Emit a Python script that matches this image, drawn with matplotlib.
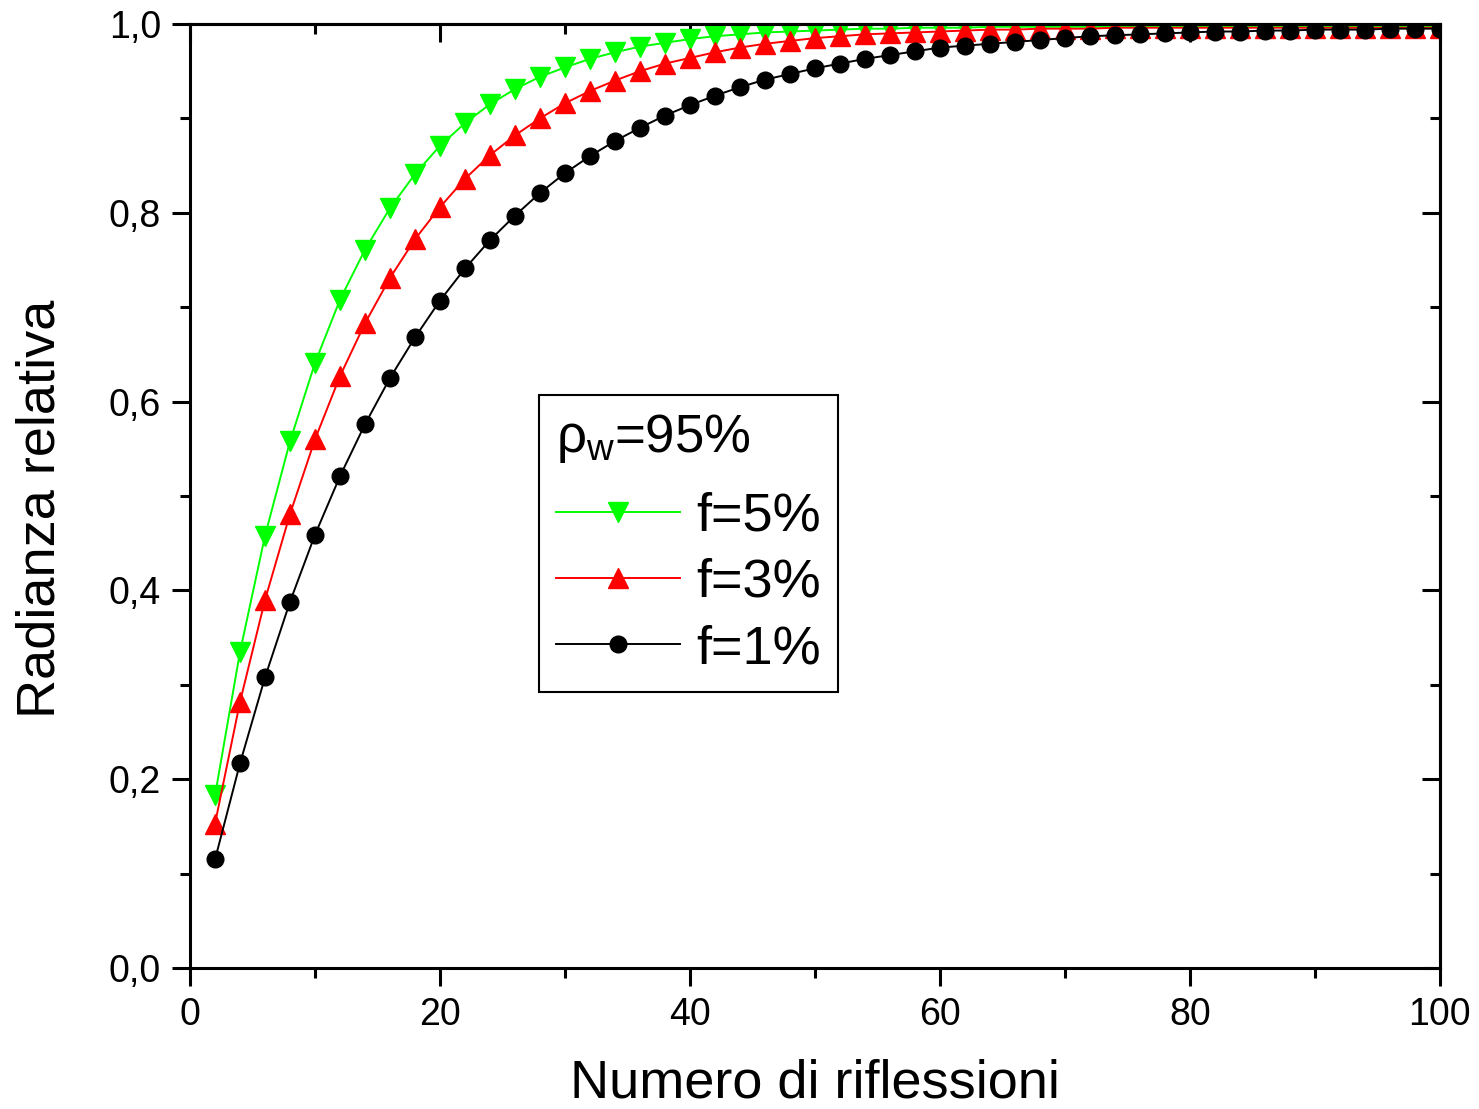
import numpy as np
import matplotlib.pyplot as plt
from matplotlib.ticker import MultipleLocator, FuncFormatter

plt.rcParams['font.family'] = ['Liberation Sans', 'DejaVu Sans']
plt.rcParams['mathtext.fontset'] = 'custom'
plt.rcParams['mathtext.rm'] = 'Liberation Sans'
plt.rcParams['mathtext.it'] = 'Liberation Sans'

# numero di riflessioni
n = np.arange(2, 101, 2)

# f=5%
f5 = [0.183, 0.335, 0.458, 0.558, 0.641, 0.708, 0.761, 0.805, 0.841, 0.871,
      0.895, 0.915, 0.931, 0.944, 0.954, 0.963, 0.970, 0.976, 0.980, 0.984,
      0.987, 0.989, 0.991, 0.992, 0.993, 0.994, 0.995, 0.995, 0.996, 0.996,
      0.996, 0.997, 0.997, 0.997, 0.997, 0.997, 0.997, 0.997, 0.997, 0.997,
      0.997, 0.997, 0.997, 0.997, 0.997, 0.997, 0.997, 0.997, 0.997, 0.997]
# f=3%
f3 = [0.153, 0.282, 0.390, 0.481, 0.560, 0.627, 0.683, 0.731, 0.772, 0.806,
      0.836, 0.861, 0.882, 0.900, 0.916, 0.929, 0.940, 0.950, 0.958, 0.964,
      0.970, 0.975, 0.979, 0.982, 0.985, 0.987, 0.989, 0.990, 0.991, 0.992,
      0.993, 0.994, 0.994, 0.995, 0.995, 0.995, 0.996, 0.996, 0.996, 0.996,
      0.996, 0.996, 0.996, 0.996, 0.996, 0.996, 0.996, 0.996, 0.996, 0.996]
# f=1%
f1 = [0.115, 0.217, 0.308, 0.388, 0.459, 0.521, 0.576, 0.625, 0.668, 0.707,
      0.741, 0.771, 0.797, 0.821, 0.842, 0.860, 0.876, 0.890, 0.903, 0.914,
      0.924, 0.933, 0.941, 0.947, 0.953, 0.958, 0.963, 0.967, 0.971, 0.975,
      0.977, 0.979, 0.981, 0.983, 0.985, 0.987, 0.988, 0.989, 0.990, 0.991,
      0.992, 0.992, 0.993, 0.993, 0.994, 0.994, 0.994, 0.995, 0.995, 0.995]

fig = plt.figure(figsize=(14.79, 11.09), dpi=100)
ax = fig.add_axes([0.1285, 0.1271, 0.845, 0.8513])

ax.plot(n, f5, '-v', color='#00ff00', lw=1.4, ms=14, label='f=5%')
ax.plot(n, f3, '-^', color='#ff0000', lw=1.4, ms=14, label='f=3%')
ax.plot(n, f1, '-o', color='black', lw=1.4, ms=12, label='f=1%')

ax.set_xlim(0, 100)
ax.set_ylim(0, 1.0)
ax.xaxis.set_major_locator(MultipleLocator(20))
ax.xaxis.set_minor_locator(MultipleLocator(10))
ax.yaxis.set_major_locator(MultipleLocator(0.2))
ax.yaxis.set_minor_locator(MultipleLocator(0.1))
ax.yaxis.set_major_formatter(FuncFormatter(lambda v, p: ('%.1f' % v).replace('.', ',')))

for s in ax.spines.values():
    s.set_linewidth(2.2)
ax.tick_params(which='both', direction='out', width=2.2, labelsize=27)
ax.tick_params(which='major', length=13, pad=8)
ax.tick_params(which='minor', length=7)

# tacche in alto e a destra verso l'interno
top = ax.secondary_xaxis('top')
top.xaxis.set_major_locator(MultipleLocator(20))
top.xaxis.set_minor_locator(MultipleLocator(10))
top.tick_params(which='both', direction='in', width=2.2, labeltop=False)
top.tick_params(which='major', length=13)
top.tick_params(which='minor', length=7)
top.spines['top'].set_linewidth(2.2)
right = ax.secondary_yaxis('right')
right.yaxis.set_major_locator(MultipleLocator(0.2))
right.yaxis.set_minor_locator(MultipleLocator(0.1))
right.tick_params(which='both', direction='in', width=2.2, labelright=False)
right.tick_params(which='major', length=13)
right.tick_params(which='minor', length=7)
right.spines['right'].set_linewidth(2.2)

ax.set_xlabel('Numero di riflessioni', fontsize=39, labelpad=18)
ax.set_ylabel('Radianza relativa', fontsize=39)
ax.yaxis.set_label_coords(-0.1, 0.486)

leg = ax.legend(title='$\\rho_{w}$=95%', loc='upper left', bbox_to_anchor=(0.279, 0.607),
                borderaxespad=0, fontsize=39, title_fontsize=38, frameon=True,
                fancybox=False, edgecolor='black', framealpha=1,
                handlelength=2.28, handletextpad=0.3, labelspacing=0.3,
                borderpad=0.32, alignment='left')
leg.get_frame().set_linewidth(1.5)
leg._legend_box.sep = 19

fig.savefig('out.png', dpi=100)
